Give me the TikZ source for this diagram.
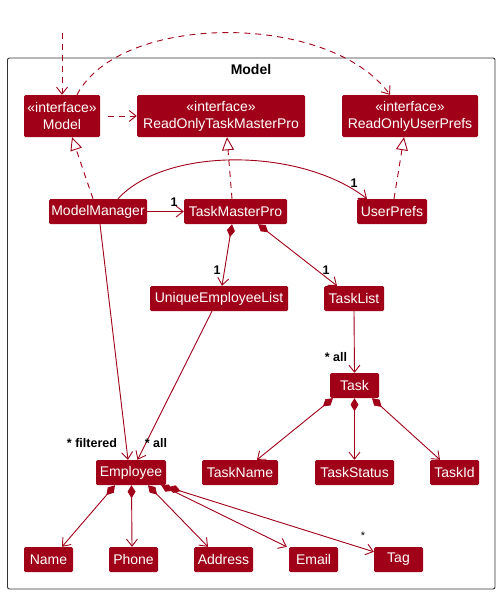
\documentclass[tikz,border=0pt]{standalone}
\usepackage{fontspec}
\setmainfont{Liberation Sans}
\usetikzlibrary{arrows.meta,calc}
\definecolor{umlred}{RGB}{160,0,24}
\tikzset{
  cls/.style={draw=none,fill=umlred,text=white,rounded corners=1.5pt,inner sep=0pt,
    font=\fontsize{14}{16}\selectfont,minimum height=25pt},
  ifc/.style={cls,minimum height=42pt,align=center,font=\fontsize{14}{17}\selectfont},
  lbl/.style={font=\bfseries\fontsize{12.5}{14}\selectfont,text=black,inner sep=0pt},
  edge/.style={draw=umlred,line width=0.9pt},
  dep/.style={edge,dash pattern=on 6pt off 5pt,-{Straight Barb[length=7pt,width=11pt]}},
  assoc/.style={edge,-{Straight Barb[length=7pt,width=11pt]}},
  comp/.style={edge,{Diamond[length=13pt,width=8pt]}-{Straight Barb[length=7pt,width=11pt]}},
  real/.style={edge,dash pattern=on 6pt off 5pt,-{Triangle[open,length=13pt,width=12pt,fill=white]}},
}
\begin{document}
\begin{tikzpicture}[x=1pt,y=-1pt]
\useasboundingbox (0,0) rectangle (500,594);
% package frame
\draw[black!80,line width=0.9pt,rounded corners=2pt] (7.5,58) rectangle (495,589);
\node[font=\bfseries\fontsize{14}{16}\selectfont] (title) at (251,69) {Model};
% nodes
\node[ifc,minimum width=76pt] (model) at (62,116) {«interface»\\Model};
\node[ifc,minimum width=168pt] (rotmp) at (221,116) {«interface»\\ReadOnlyTaskMasterPro};
\node[ifc,minimum width=136pt] (roup) at (410,116) {«interface»\\ReadOnlyUserPrefs};
\node[cls,minimum width=98pt] (mm) at (98,211.5) {ModelManager};
\node[cls,minimum width=103pt] (tmp) at (235.5,211.5) {TaskMasterPro};
\node[cls,minimum width=70pt] (up) at (392,211.5) {UserPrefs};
\node[cls,minimum width=138pt] (uel) at (219,298.5) {UniqueEmployeeList};
\node[cls,minimum width=60pt] (tl) at (354,298.5) {TaskList};
\node[cls,minimum width=49pt] (task) at (354.5,385.5) {Task};
\node[cls,minimum width=70pt] (emp) at (131,472.5) {Employee};
\node[cls,minimum width=76pt] (tname) at (240,472.5) {TaskName};
\node[cls,minimum width=79pt] (tstat) at (354.5,472.5) {TaskStatus};
\node[cls,minimum width=49pt] (tid) at (454.5,472.5) {TaskId};
\node[cls,minimum width=49pt] (name) at (48.5,559.5) {Name};
\node[cls,minimum width=49pt] (phone) at (133.5,559.5) {Phone};
\node[cls,minimum width=59pt] (addr) at (223.5,559.5) {Address};
\node[cls,minimum width=49pt] (email) at (313.5,559.5) {Email};
\node[cls,minimum width=49pt] (tag) at (398.5,559.5) {Tag};
% external dependencies
\coordinate (ext) at (62,33);
\draw[dep] (ext) -- (model.north);
\draw[dep] ([xshift=15pt]model.north) .. controls (120,12) and (330,12) .. ([xshift=-20pt]roup.north);
\draw[dep] ([xshift=8pt]model.east) -- (rotmp.west);
% realizations
\draw[real] ([xshift=-5pt]mm.north) -- ([xshift=10pt]model.south);
\draw[real] ([xshift=-3.5pt]tmp.north) -- ([xshift=6pt]rotmp.south);
\draw[real] ([xshift=2pt]up.north) -- ([xshift=-6pt]roup.south);
% associations
\draw[assoc] (mm.east) -- (tmp.west);
\node[lbl] at (174,202) {1};
\draw[assoc] ([xshift=20pt]mm.north) .. controls (165,147) and (300,147) .. ([xshift=-25pt]up.north);
\node[lbl] at (354,183) {1};
\draw[comp] ([xshift=-3.5pt]tmp.south) -- ([xshift=3pt]uel.north);
\node[lbl] at (217,270) {1};
\draw[comp] ([xshift=22.5pt]tmp.south) -- ([xshift=-17pt]tl.north);
\node[lbl] at (326,270) {1};
\draw[assoc] (tl.south) -- (task.north);
\node[lbl] at (336,357) {* all};
\draw[comp] ([xshift=-21.5pt]task.south) -- ([xshift=17pt]tname.north);
\draw[comp] (task.south) -- (tstat.north);
\draw[comp] ([xshift=17.5pt]task.south) -- ([xshift=-14.5pt]tid.north);
\draw[assoc] ([xshift=2pt]mm.south) -- ([xshift=-3pt]emp.north);
\node[lbl] at (92,443) {* filtered};
\draw[assoc] ([xshift=-7pt]uel.south) -- ([xshift=6.5pt]emp.north);
\node[lbl] at (156,443) {* all};
\draw[comp] ([xshift=-16pt]emp.south) -- ([xshift=13.5pt]name.north);
\draw[comp] ([xshift=0.5pt]emp.south) -- ([xshift=-1.5pt]phone.north);
\draw[comp] ([xshift=17pt]emp.south) -- ([xshift=-15.5pt]addr.north);
\draw[comp] ([xshift=-5pt]emp.south east) -- ([xshift=-2pt]email.north west);
\draw[comp] ([xshift=2pt,yshift=-2pt]emp.south east) -- ([yshift=-5pt]tag.north west);
\node[font=\fontsize{11}{12}\selectfont,inner sep=0pt] at (363,536) {*};
\end{tikzpicture}
\end{document}
